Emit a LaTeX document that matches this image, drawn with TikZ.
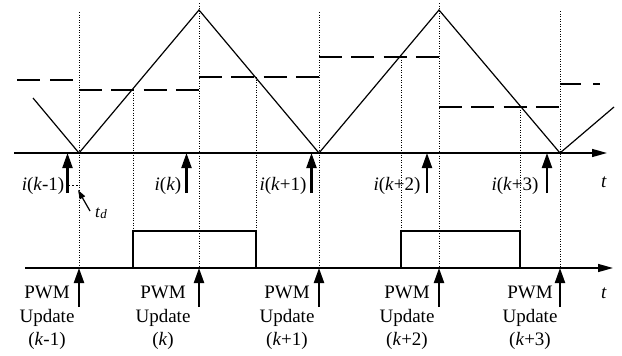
\documentclass[tikz,border=0pt]{standalone}
\usepackage{fontspec}
\setmainfont{Liberation Serif}
\usetikzlibrary{arrows.meta}
\begin{document}
\begin{tikzpicture}[x=1pt,y=-1pt,
  tri/.style={line width=1.2pt},
  axisline/.style={line width=1.4pt,-{Triangle[length=15pt,width=8pt]}},
  guide/.style={line width=1pt,dash pattern=on 1.3pt off 1.2pt},
  ref/.style={line width=1.2pt,dash pattern=on 23pt off 9.33pt},
  pulse/.style={line width=1.2pt},
  samp/.style={line width=2.2pt,-{Triangle[length=15pt,width=10pt]}},
  lbl/.style={font=\fontsize{19}{23}\selectfont,inner sep=0pt,anchor=base}
]
\useasboundingbox (0,0) rectangle (622,356);
% key points
\coordinate (S) at (33,98);
\coordinate (V0) at (79,153);
\coordinate (P1) at (199,10);
\coordinate (V1) at (319,153);
\coordinate (P2) at (439,10);
\coordinate (V2) at (560,153);
\coordinate (E) at (614,107);
% axes
\coordinate (A1s) at (14,153);
\coordinate (A1e) at (607,153);
\coordinate (A2s) at (25,268);
\coordinate (A2e) at (613,268);
\draw[axisline] (A1s) -- (A1e);
\draw[axisline] (A2s) -- (A2e);
% triangle carrier
\draw[tri] (S) -- (V0) -- (P1) -- (V1) -- (P2) -- (V2) -- (E);
% reference (dashed) levels
\coordinate (R1a) at (17,80);  \coordinate (R1b) at (73,80);
\coordinate (R2a) at (79,90);  \coordinate (R2b) at (199,90);
\coordinate (R3a) at (199,77); \coordinate (R3b) at (319,77);
\coordinate (R4a) at (319,57); \coordinate (R4b) at (439,57);
\coordinate (R5a) at (439,107);\coordinate (R5b) at (560,107);
\coordinate (R6a) at (560,84); \coordinate (R6b) at (600,84);
\draw[line width=1.2pt,dash pattern=on 23pt off 10pt] (R1a) -- (R1b);
\draw[ref] (R2a) -- (R2b);
\draw[ref] (R3a) -- (R3b);
\draw[ref] (R4a) -- (R4b);
\draw[ref] (R5a) -- (R5b);
\draw[line width=1.2pt,dash pattern=on 21pt off 12pt] (R6a) -- (R6b);
% vertical dotted guides at update instants
\foreach \x/\t [count=\i] in {79/12,199/3,319/12,439/3,560/11}{
  \coordinate (G\i t) at (\x,\t);
  \coordinate (G\i b) at (\x,268);
  \draw[guide] (G\i t) -- (G\i b);
}
% intersection guides
\foreach \x/\y [count=\i] in {133/90,256/77,401/57,520/107}{
  \coordinate (I\i t) at (\x,\y);
  \coordinate (I\i b) at (\x,231);
  \draw[guide] (I\i t) -- (I\i b);
}
% pulses
\coordinate (Q1a) at (133,268); \coordinate (Q1b) at (133,231);
\coordinate (Q1c) at (256,231); \coordinate (Q1d) at (256,268);
\coordinate (Q2a) at (401,268); \coordinate (Q2b) at (401,231);
\coordinate (Q2c) at (520,231); \coordinate (Q2d) at (520,268);
\draw[pulse] (Q1a) -- (Q1b) -- (Q1c) -- (Q1d);
\draw[pulse] (Q2a) -- (Q2b) -- (Q2c) -- (Q2d);
% sampling arrows
\foreach \x [count=\i] in {67.5,186.5,311.5,427,547}{
  \coordinate (SA\i) at (\x,193);
  \coordinate (SB\i) at (\x,153);
  \draw[samp] (SA\i) -- (SB\i);
}
% PWM update arrows
\foreach \x [count=\i] in {79,199,319,439,560}{
  \coordinate (UA\i) at (\x,307);
  \coordinate (UB\i) at (\x,268);
  \draw[samp] (UA\i) -- (UB\i);
}
% sample labels
\node[lbl] (s1) at (43,190) {\textit{i}(\textit{k}-1)};
\node[lbl] (s2) at (168,190) {\textit{i}(\textit{k})};
\node[lbl] (s3) at (283,190) {\textit{i}(\textit{k}+1)};
\node[lbl] (s4) at (397,190) {\textit{i}(\textit{k}+2)};
\node[lbl] (s5) at (515,190) {\textit{i}(\textit{k}+3)};
\node[lbl] (t1) at (604,187) {\textit{t}};
\node[lbl] (t2) at (604,298) {\textit{t}};
% td
\coordinate (D1) at (68,185);
\coordinate (D2) at (79,185);
\draw[line width=0.9pt,dash pattern=on 2pt off 2pt] (D1) -- (D2);
\node[font=\fontsize{17}{20}\selectfont,inner sep=0pt,anchor=base west] (td) at (95,217) {\textit{t}\raisebox{-1.5pt}{\fontsize{13}{15}\selectfont\textit{d}}};
\coordinate (TA) at (90,211);
\coordinate (TB) at (78,190);
\draw[line width=1.2pt,-{Triangle[length=9pt,width=6pt]}] (TA) -- (TB);
% PWM update labels
\foreach \x/\k [count=\i] in {47/\textit{k}-1,163/\textit{k},287/\textit{k}+1,407/\textit{k}+2,530/\textit{k}+3}{
  \node[lbl] (p\i) at (\x,298) {PWM};
  \node[lbl] (u\i) at (\x,322) {Update};
  \node[lbl] (n\i) at (\x,345) {(\k)};
}
\end{tikzpicture}
\end{document}
